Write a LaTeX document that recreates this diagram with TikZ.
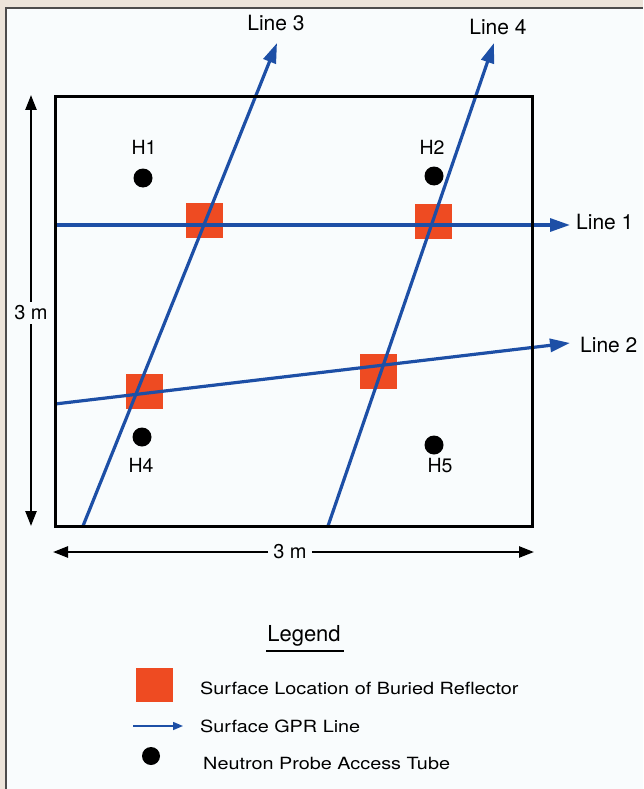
\documentclass[tikz,border=0pt]{standalone}
\usepackage{fontspec}
\setmainfont{TeX Gyre Heros}
\newfontfamily\legfont[FakeStretch=1.18]{TeX Gyre Heros}
\usetikzlibrary{arrows.meta}
\definecolor{bgc}{HTML}{ECE4DA}
\definecolor{panelc}{HTML}{F9FCFD}
\definecolor{gprblue}{HTML}{1D4FA6}
\definecolor{reflc}{HTML}{EE4B22}
\tikzset{
  dimline/.style={line width=2.4pt, black, -{Triangle[length=15pt,width=11pt]}},
  gpr/.style={line width=3.2pt, gprblue, -{Triangle[length=20pt,width=13pt]}},
  reflbox/.style={rectangle, fill=reflc, draw=none, minimum width=37pt, minimum height=35pt, inner sep=0pt},
  probe/.style={circle, fill=black, draw=none, minimum size=19pt, inner sep=0pt},
  hlabel/.style={font=\fontsize{19.5}{21}\selectfont, inner sep=0pt},
  linelabel/.style={font=\fontsize{21}{23}\selectfont, inner sep=0pt},
  dimlabel/.style={font=\fontsize{20}{22}\selectfont, fill=panelc, inner xsep=5pt, inner ysep=4pt},
  legtext/.style={font=\legfont\fontsize{16.8}{18}\selectfont, inner sep=0pt, anchor=base west}
}
\begin{document}
\begin{tikzpicture}[x=1pt,y=-1pt]
\useasboundingbox (0,0) rectangle (643,789);
\fill[bgc] (0,0) rectangle (643,789);
\fill[panelc] (6,8) rectangle (643,789);
\draw[line width=1.3pt, black!70] (6,789) -- (6,8) -- (643,8);

% reflectors
\node[reflbox] (r1) at (204.5,220.5) {};
\node[reflbox] (r2) at (433,221) {};
\node[reflbox] (r3) at (378,371) {};
\node[reflbox] (r4) at (144.5,391.5) {};

% GPR lines
\coordinate (l1s) at (55,225);
\coordinate (l1e) at (570,225);
\coordinate (l2s) at (55,404);
\coordinate (l2e) at (570,343);
\coordinate (l3s) at (83,526);
\coordinate (l3e) at (277,43);
\coordinate (l4s) at (328,526);
\coordinate (l4e) at (494,43);
\draw[gpr] (l1s) -- (l1e);
\draw[gpr] (l2s) -- (l2e);
\draw[gpr] (l3s) -- (l3e);
\draw[gpr] (l4s) -- (l4e);

\node[linelabel, anchor=base west] (t1) at (576,229) {Line 1};
\node[linelabel, anchor=base west] (t2) at (580,352) {Line 2};
\node[linelabel] (t3) at (276,23) {Line 3};
\node[linelabel] (t4) at (498,27) {Line 4};

% site box
\draw[line width=3pt, black] (55,97) rectangle (532,526);

% probes
\node[probe] (h1) at (143,178) {};
\node[probe] (h2) at (434,176) {};
\node[probe] (h4) at (142,437) {};
\node[probe] (h5) at (434,445) {};
\node[hlabel] (h1l) at (144,147) {H1};
\node[hlabel] (h2l) at (432,147) {H2};
\node[hlabel] (h4l) at (141,465) {H4};
\node[hlabel] (h5l) at (440,466) {H5};

% dimensions
\coordinate (vtop) at (31,95);
\coordinate (vbot) at (31,526);
\node[dimlabel] (vlab) at (31,313) {3 m};
\draw[dimline] (vlab) -- (vtop);
\draw[dimline] (vlab) -- (vbot);
\coordinate (hleft) at (53,552);
\coordinate (hright) at (534,552);
\node[dimlabel] (hlab) at (290,552) {3 m};
\draw[dimline] (hlab) -- (hleft);
\draw[dimline] (hlab) -- (hright);

% legend
\node[font=\fontsize{22}{24}\selectfont, inner sep=0pt] (leg) at (304,636) {Legend};
\draw[line width=2.2pt] (266,651) -- (344,651);
\node[reflbox, minimum height=34pt] (lr) at (154.5,685) {};
\node[legtext] (lrt) at (200,694) {Surface Location of Buried Reflector};
\coordinate (lgs) at (133,726);
\coordinate (lge) at (183,726);
\draw[line width=1.5pt, gprblue, -{Triangle[length=10pt,width=8pt]}] (lgs) -- (lge);
\node[legtext] (lgt) at (200,732) {Surface GPR Line};
\node[probe, minimum size=18pt] (lp) at (151,756) {};
\node[legtext] (lpt) at (203,769) {Neutron Probe Access Tube};
\end{tikzpicture}
\end{document}
